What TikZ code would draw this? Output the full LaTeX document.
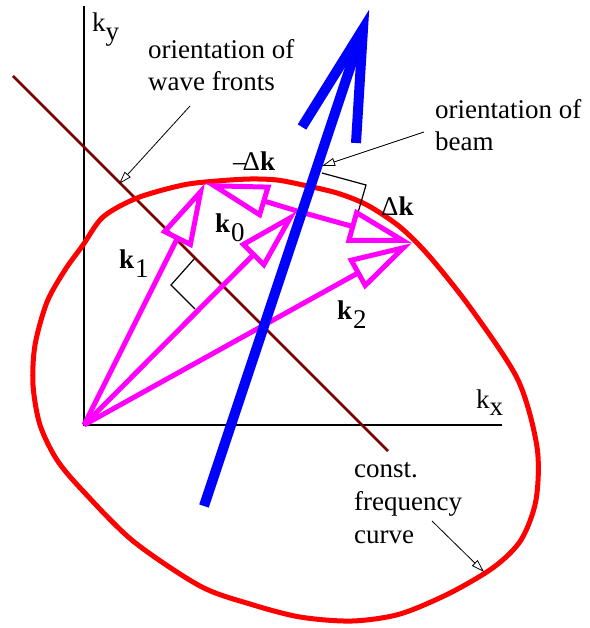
\documentclass[tikz,border=0pt]{standalone}
\usepackage{fontspec}
\setmainfont{Liberation Serif}
\usetikzlibrary{arrows.meta}
\definecolor{frontred}{RGB}{128,0,0}
\definecolor{kmag}{RGB}{255,0,255}
\definecolor{beamblue}{RGB}{0,0,255}
\definecolor{curvered}{RGB}{255,0,0}
\begin{document}
\begin{tikzpicture}[
        x=1pt, y=-1pt,
        every node/.style={font=\fontsize{27}{32.7}\selectfont, inner sep=0pt, anchor=base west},
        lbl/.style={align=left},
        axisl/.style={draw, line width=1.4pt},
        frontl/.style={draw=frontred, line width=2.6pt},
        freqc/.style={draw=curvered, line width=5pt},
        kvec/.style={draw=kmag, line width=5pt, -{Triangle[open, length=64pt, width=34pt]}},
        beaml/.style={draw=beamblue, line width=10pt},
        pointer/.style={draw, line width=0.8pt, -{Triangle[open, length=13pt, width=8pt]}},
        rightang/.style={draw, line width=1.2pt},
    ]
    \useasboundingbox (0,0) rectangle (589,628);
    \coordinate (O) at (84,425);
    \coordinate (K0) at (297,211);
    \coordinate (K1) at (205,183);
    \coordinate (K2) at (412,243);
    \coordinate (kxend) at (502,425);
    \coordinate (kyend) at (84,6);
    \coordinate (front1) at (13,76);
    \coordinate (front2) at (388,451);
    \coordinate (beam1) at (204,506);
    \coordinate (beam2) at (363,29);
    \coordinate (barbL) at (302,127);
    \coordinate (barbR) at (356,143);
    \coordinate (wavept) at (190,106);
    \coordinate (wavehit) at (119,184);
    \coordinate (beampt) at (424,132);
    \coordinate (beamhit) at (322,166);
    \coordinate (freqpt) at (432,521);
    \coordinate (freqhit) at (484,572);

    \draw[axisl] (kyend) -- (O) -- (kxend);
    \draw[frontl] (front1) -- (front2);
    \draw[freqc] plot[smooth cycle] coordinates {(137,198) (183,185) (217,181) (250,179)
        (277,180) (303,185) (337,193) (367,205) (400,227) (430,257) (472,310)
        (518,380) (537,447) (536,500) (521,540) (494,567) (450,593) (400,614)
        (352,621) (300,617) (250,604) (200,586) (133,541) (83,491) (57,460)
        (40,425) (33,385) (35,345) (47,302) (65,270) (83,245) (103,217)};
    \draw[rightang] (195,258) -- (171,285) -- (195,309);
    \draw[rightang] (322,173) -- (366,185) -- (355,223);

    \draw[kvec] (O) -- (K1);
    \draw[kvec] (O) -- (K0);
    \draw[kvec] (O) -- (K2);
    \draw[kvec] (K0) -- (K1);
    \draw[kvec] (K0) -- (K2);

    \draw[beaml] (beam1) -- (beam2);
    \draw[beaml, line join=miter] (barbL) -- (beam2) -- (barbR);

    \node (kylbl) at (92,32) {k\raisebox{-9pt}{y}};
    \node (kxlbl) at (476,408) {k\raisebox{-7pt}{x}};
    \node (k0lbl) at (215,233) {\textbf{k}\kern1pt\raisebox{-9pt}{0}};
    \node (k1lbl) at (119,268) {\textbf{k}\kern1pt\raisebox{-9pt}{1}};
    \node (k2lbl) at (337,319) {\textbf{k}\kern1pt\raisebox{-9pt}{2}};
    \node (mdklbl) at (233,171) {--\kern-4ptΔ\textbf{k}};
    \node (dklbl) at (381,215) {Δ\textbf{k}};
    \node[lbl] (wavetxt) at (148,91) {orientation of\\wave fronts};
    \node[lbl] (beamtxt) at (435,151) {orientation of\\beam};
    \node[lbl] (freqtxt) at (354,543) {const.\\frequency\\curve};

    \draw[pointer] (wavept) -- (wavehit);
    \draw[pointer] (beampt) -- (beamhit);
    \draw[pointer] (freqpt) -- (freqhit);
\end{tikzpicture}
\end{document}
